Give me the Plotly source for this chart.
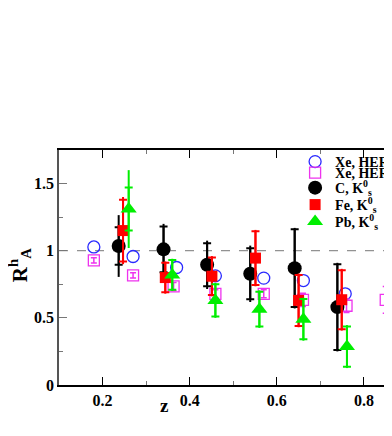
import plotly.graph_objects as go

# Xe, HERMES (open circles)
xe1_z = [0.180, 0.270, 0.370, 0.459, 0.570, 0.661, 0.757]
xe1_r = [1.028, 0.957, 0.875, 0.813, 0.796, 0.778, 0.679]

# Xe, HERMES (open squares)
xe2_z = [0.180, 0.270, 0.363, 0.459, 0.570, 0.660, 0.760, 0.850]
xe2_r = [0.928, 0.816, 0.734, 0.679, 0.679, 0.634, 0.590, 0.634]
xe2_err = [0.02, 0.02, 0.03, 0.03, 0.03, 0.05, 0.05, 0.10]

# C, K0s
c_z = [0.237, 0.340, 0.440, 0.539, 0.641, 0.739]
c_r = [1.035, 1.010, 0.895, 0.828, 0.870, 0.580]
c_tot = [0.23, 0.19, 0.18, 0.21, 0.30, 0.33]
c_stat = [0.14, 0.17, 0.16, 0.19, 0.29, 0.32]

# Fe, K0s
fe_z = [0.247, 0.344, 0.451, 0.551, 0.650, 0.749]
fe_r = [1.150, 0.800, 0.810, 0.945, 0.630, 0.635]
fe_tot = [0.25, 0.12, 0.15, 0.21, 0.20, 0.23]
fe_stat = [0.23, 0.11, 0.14, 0.20, 0.19, 0.22]

# Pb, K0s
pb_z = [0.260, 0.360, 0.459, 0.560, 0.661, 0.761]
pb_r = [1.310, 0.820, 0.630, 0.565, 0.490, 0.286]
pb_tot = [0.29, 0.12, 0.13, 0.14, 0.16, 0.16]
pb_stat = [0.16, 0.11, 0.12, 0.13, 0.15, 0.15]

serif = "Liberation Serif"
fig = go.Figure()

fig.add_trace(go.Scatter(x=xe1_z, y=xe1_r, mode="markers", name="<b>Xe, HERMES</b>", legend="legend",
                         marker=dict(symbol="circle-open", size=12, color="#2a2aff", line=dict(width=1.3))))
fig.add_trace(go.Scatter(x=xe2_z, y=xe2_r, mode="markers", name="<b>Xe, HERMES</b>", legend="legend2",
                         error_y=dict(type="data", array=xe2_err, color="#ee33ee", thickness=1.5, width=3),
                         marker=dict(symbol="square-open", size=11, color="#ee33ee", line=dict(width=1.3))))


def add_series(z, r, tot, stat, color, symbol, size, name, leg):
    # total error: plain bar
    fig.add_trace(go.Scatter(x=z, y=r, mode="markers", showlegend=False, hoverinfo="skip",
                             marker=dict(size=1, color=color, opacity=0),
                             error_y=dict(type="data", array=tot, color=color, thickness=2, width=0)))
    # stat error with caps + marker
    fig.add_trace(go.Scatter(x=z, y=r, mode="markers", name=name, legend=leg,
                             marker=dict(symbol=symbol, size=size, color=color),
                             error_y=dict(type="data", array=stat, color=color, thickness=2, width=4)))


add_series(c_z, c_r, c_tot, c_stat, "black", "circle", 14, "<b>C, K<sup>0</sup><sub>s</sub></b>", "legend3")
add_series(fe_z, fe_r, fe_tot, fe_stat, "#ff0000", "square", 11, "<b>Fe, K<sup>0</sup><sub>s</sub></b>", "legend4")
add_series(pb_z, pb_r, pb_tot, pb_stat, "#00ee00", "triangle-up", 14, "<b>Pb, K<sup>0</sup><sub>s</sub></b>", "legend5")

fig.add_shape(type="line", xref="paper", x0=0, x1=1, yref="y", y0=1, y1=1,
              line=dict(color="#777777", width=1, dash="dash"), layer="below")

# one legend box per row, so the rows sit as tight as in the original
leg_rows = [0.949, 0.902, 0.838, 0.766, 0.694]
legends = {}
for i, ly in enumerate(leg_rows):
    key = "legend" if i == 0 else "legend%d" % (i + 1)
    legends[key] = dict(x=0.709, y=ly, xanchor="left", yanchor="middle", bgcolor="rgba(0,0,0,0)",
                        font=dict(family=serif, size=14), itemwidth=30)

fig.update_layout(
    width=384, height=428,
    margin=dict(l=51, r=0, t=142, b=51, autoexpand=False),
    paper_bgcolor="white", plot_bgcolor="white",
    font=dict(family=serif, size=15, color="black"),
    showlegend=True,
    **legends,
    xaxis=dict(range=[0.1, 0.8644], tickvals=[0.2, 0.4, 0.6, 0.8],
               ticktext=["<b>0.2</b>", "<b>0.4</b>", "<b>0.6</b>", "<b>0.8</b>"],
               tickfont=dict(size=16),
               ticks="inside", ticklen=8, tickwidth=1, tickcolor="black",
               minor=dict(tickvals=[0.3, 0.5, 0.7], ticks="inside", ticklen=4, tickcolor="#777777"),
               showline=True, linecolor="black", linewidth=1.5, mirror="ticks",
               showgrid=False, zeroline=False),
    yaxis=dict(range=[0, 1.75], tickvals=[0, 0.5, 1, 1.5],
               ticktext=["<b>0</b>", "<b>0.5</b>", "<b>1</b>", "<b>1.5</b>"],
               tickfont=dict(size=16),
               ticks="inside", ticklen=8, tickwidth=1, tickcolor="#777777",
               minor=dict(tickvals=[0.25, 0.75, 1.25], ticks="inside", ticklen=4, tickcolor="#777777"),
               showline=True, linecolor="#555555", linewidth=1.5, mirror=False,
               showgrid=False, zeroline=False),
    annotations=[
        dict(text="<b>z</b>", xref="paper", yref="paper", x=0.318, y=-0.087, showarrow=False,
             xanchor="center", yanchor="middle", font=dict(size=19)),
        dict(text="<b>R<sup>h</sup><sub>A</sub></b>", xref="paper", yref="paper", x=-0.12, y=0.51,
             showarrow=False, textangle=-90, xanchor="center", yanchor="middle", font=dict(size=21)),
    ],
)

fig.write_html("out.html")
